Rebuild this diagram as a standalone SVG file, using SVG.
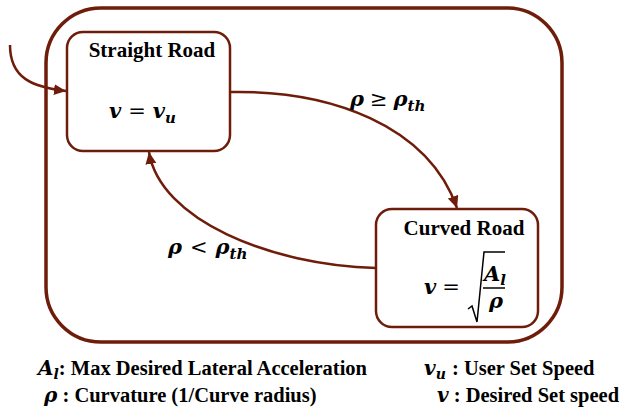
<svg xmlns="http://www.w3.org/2000/svg" width="629" height="411" viewBox="0 0 629 411">
  <style>
    .frame { fill: none; stroke: #6f1d0b; stroke-width: 3.5; }
    .state { fill: #ffffff; stroke: #6f1d0b; stroke-width: 2.5; }
    .edge { fill: none; stroke: #6f1d0b; stroke-width: 2.5; }
    .title { font-family: "Liberation Serif", "Times New Roman", serif; font-weight: bold; font-size: 21px; fill: #000; }
    .math { font-family: "DejaVu Serif", serif; font-weight: bold; font-style: italic; font-size: 21px; fill: #000; }
    .mop { font-family: "DejaVu Serif", serif; font-weight: normal; font-style: normal; font-size: 21px; fill: #000; }
    .sub { font-size: 15px; }
    .legend { font-family: "Liberation Serif", "Times New Roman", serif; font-weight: bold; font-size: 20.5px; fill: #000; }
    .lmath { font-family: "DejaVu Serif", serif; font-weight: bold; font-style: italic; font-size: 20px; fill: #000; }
    .lmath.lsub { font-size: 14px; }
  </style>
  <defs>
    <marker id="arrow" markerUnits="userSpaceOnUse" markerWidth="13" markerHeight="12" refX="12" refY="5.5" orient="auto">
      <path d="M0,0 L12,5.5 L0,11 z" fill="#6f1d0b"/>
    </marker>
  </defs>

  <!-- outer frame of the state machine -->
  <rect class="frame" x="46" y="8" width="516" height="334" rx="55" ry="55"/>

  <g id="connectors">
    <path id="entry" class="edge" d="M10,45 C10,78 32,87 66,91" marker-end="url(#arrow)"/>
    <path id="to-curved" class="edge" d="M230,92 C330,90 428,125 457,208" marker-end="url(#arrow)"/>
    <path id="to-straight" class="edge" d="M376,268 C270,265 160,220 149,152" marker-end="url(#arrow)"/>
  </g>

  <g id="straight-road">
    <rect class="state" x="67" y="32" width="163" height="119" rx="16" ry="16"/>
    <text class="title" x="152" y="57" text-anchor="middle">Straight Road</text>
    <text class="math" x="109" y="118">v<tspan class="mop" dx="7">=</tspan><tspan dx="7">v</tspan><tspan class="sub" dy="5">u</tspan></text>
  </g>

  <g id="curved-road">
    <rect class="state" x="376" y="209" width="162" height="118" rx="16" ry="16"/>
    <text class="title" x="464" y="235" text-anchor="middle">Curved Road</text>
    <text class="math" x="424" y="294">v<tspan class="mop" dx="6">=</tspan></text>
    <path d="M468,309 L472,306 L477,322 L484,252 L505,252" fill="none" stroke="#000" stroke-width="1.5"/>
    <text class="math" x="484" y="281">A<tspan class="sub" dy="4">l</tspan></text>
    <line x1="483" y1="288" x2="505" y2="288" stroke="#000" stroke-width="1.5"/>
    <text class="math" x="489" y="308">ρ</text>
  </g>

  <g id="edge-labels">
    <text class="math" x="350" y="106">ρ<tspan class="mop" dx="6">≥</tspan><tspan dx="6">ρ</tspan><tspan class="sub" dy="5">th</tspan></text>
    <text class="math" x="168" y="254">ρ<tspan class="mop" dx="8">&lt;</tspan><tspan dx="8">ρ</tspan><tspan class="sub" dy="5">th</tspan></text>
  </g>

  <g id="legend">
    <text class="legend" x="38" y="375"><tspan class="lmath">A</tspan><tspan class="lmath lsub" dy="4">l</tspan><tspan dy="-4">: Max Desired Lateral Acceleration</tspan></text>
    <text class="legend" x="44" y="402"><tspan class="lmath">ρ</tspan> : Curvature (1/Curve radius)</text>
    <text class="legend" x="424" y="375"><tspan class="lmath">v</tspan><tspan class="lmath lsub" dy="4">u</tspan><tspan dx="1" dy="-4"> : User Set Speed</tspan></text>
    <text class="legend" x="437" y="402"><tspan class="lmath">v</tspan> : Desired Set speed</text>
  </g>
</svg>
